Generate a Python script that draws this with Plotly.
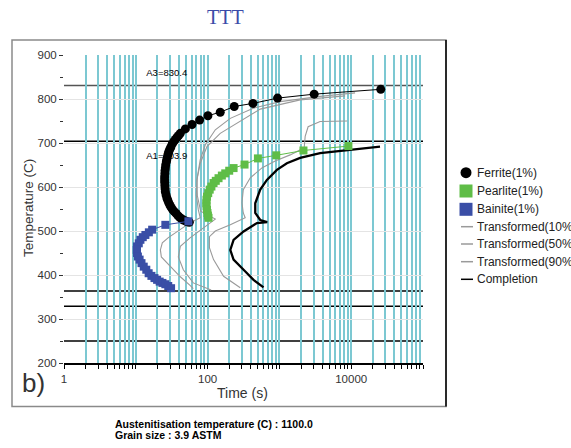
import plotly.graph_objects as go

# ---------------- data (time in s, temperature in C) ----------------
ferrite_t = [25800, 3050, 942, 428, 235, 150, 101, 77.4, 60.7, 49.0, 41.7, 39.5, 37.5, 35.5, 33.7,
             32.2, 30.8, 29.8, 28.8, 28.1, 27.5, 27.0, 26.6, 26.1, 25.8, 25.5, 25.4, 25.2, 25.2,
             25.3, 25.4, 25.6, 25.8, 26.4, 27.1, 27.9, 28.8, 30.0, 31.3, 32.8, 34.4, 36.4, 38.5,
             40.8, 43.1, 46.0, 49.0, 52.0, 55.6]
ferrite_T = [822, 811, 802, 790, 783, 770, 762, 752, 742, 732, 722, 717, 713, 708, 703,
             698, 691, 686, 680, 674, 668, 662, 657, 650, 643, 637, 630, 623, 616,
             610, 603, 596, 589, 582, 575, 570, 564, 558, 553, 548, 544, 540, 535,
             531, 528, 525, 523, 521, 520]

pearlite_t = [9140, 2163, 904, 502, 327, 230, 200, 176, 158, 142, 130, 121, 113, 107, 102,
              98, 96.5, 96, 96.5, 98, 99.5, 101, 103]
pearlite_T = [693, 683, 672, 665, 651, 643, 637, 631, 626, 620, 614, 609, 601, 594, 586,
              578, 571, 563, 556, 548, 541, 535, 530]

bainite_t = [54, 25.8, 16.9, 15.2, 13.6, 12.5, 11.6, 11.0, 10.4, 10.3, 10.4, 10.7, 11.3, 12.0,
             12.9, 14.0, 15.1, 16.5, 18.2, 19.8, 21.5, 23.5, 25.8, 28.3, 31.0]
bainite_T = [522, 514, 503, 497, 491, 486, 480, 472, 465, 457, 450, 442, 435, 427,
             419, 412, 404, 398, 393, 389, 385, 382, 379, 375, 370]

t10_t = [11330, 3690, 1025, 432, 207, 128, 93, 79, 72, 69.6, 74.3, 79, 57.5, 41.7, 28.4,
         23.4, 22, 22.7, 30.3, 41.7, 57.5, 63.2]
t10_T = [814, 806, 794, 779, 756, 730, 696, 662, 623, 582, 548, 530, 519, 503, 485,
         473, 457, 441, 419, 396, 376, 369]

t50_t = [8230, 1945, 541, 285, 150, 98, 79, 71, 72, 80, 128, 57.5, 41.7, 39.1, 45.9, 63.2, 112]
t50_T = [807, 798, 777, 749, 722, 692, 654, 616, 580, 545, 527, 485, 465, 441, 412, 382, 366]

t90_t = [8770, 3690, 2512, 2285, 2213, 1413, 874, 577, 393, 314, 301, 314, 334, 207, 128,
         106, 106, 121, 167, 285]
t90_T = [750, 749, 737, 715, 689, 673, 659, 644, 621, 594, 564, 541, 530, 514, 500,
         487, 462, 435, 397, 371]

comp_t = [25200, 8690, 3690, 1945, 1271, 923, 670, 541, 461, 461, 541, 676, 487, 317, 230,
          207, 230, 317, 436, 601]
comp_T = [692, 684, 677, 666, 654, 639, 616, 594, 563, 541, 525, 520, 518, 499, 480,
          457, 435, 412, 389, 372]

ref_names = ["A3=830.4", "A1=703.9"]
ref_label_t = [14.0, 14.0]
ref_label_T = [858, 668]
ref_temps = [830.4, 703.9, 363.5, 329.0, 250.0]
ref_colors = ["#555555", "#000000", "#000000", "#000000", "#000000"]

x_tick_vals = [d * 10 ** k for k in range(5) for d in range(1, 10)] + [100000]
x_tick_labels = {1: "1", 100: "100", 10000: "10000"}

legend_names = ["Ferrite(1%)", "Pearlite(1%)", "Bainite(1%)", "Transformed(10%)",
                "Transformed(50%)", "Transformed(90%)", "Completion"]

FERRITE = "#000000"
PEARLITE = "#5fbd47"
BAINITE = "#3a4ea6"
GRAY = "#9a9a9a"

# ---------------- layout geometry helpers (pixels -> paper) ----------------
L, R, T, B = 64, 148, 55, 85
W, H = 571, 448
PW, PH = W - L - R, H - T - B


def px(x):
    return (x - L) / PW


def py(y):
    return (H - B - y) / PH


fig = go.Figure()

# reference labels (under the curves)
fig.add_trace(go.Scatter(x=ref_label_t, y=ref_label_T, mode="text", text=ref_names,
                         textposition="middle right",
                         textfont=dict(family="Liberation Sans", size=9.5, color="#000"),
                         showlegend=False, hoverinfo="skip"))

for tt, TT in [(t10_t, t10_T), (t50_t, t50_T), (t90_t, t90_T)]:
    fig.add_trace(go.Scatter(x=tt, y=TT, mode="lines", line=dict(color=GRAY, width=1.1),
                             showlegend=False))

fig.add_trace(go.Scatter(x=comp_t, y=comp_T, mode="lines", line=dict(color="#000", width=2.3),
                         showlegend=False))

fig.add_trace(go.Scatter(x=ferrite_t, y=ferrite_T, mode="lines+markers",
                         line=dict(color=FERRITE, width=1),
                         marker=dict(symbol="circle", size=9, color=FERRITE),
                         showlegend=False))
fig.add_trace(go.Scatter(x=pearlite_t, y=pearlite_T, mode="lines+markers",
                         line=dict(color=PEARLITE, width=1),
                         marker=dict(symbol="square", size=8, color=PEARLITE),
                         showlegend=False))
fig.add_trace(go.Scatter(x=bainite_t, y=bainite_T, mode="lines+markers",
                         line=dict(color=BAINITE, width=1),
                         marker=dict(symbol="square", size=8, color=BAINITE),
                         showlegend=False))

shapes = []
for v, c in zip(ref_temps, ref_colors):
    shapes.append(dict(type="line", xref="paper", yref="y", x0=0, x1=1, y0=v, y1=v,
                       line=dict(color=c, width=1.5), layer="between"))

# outer frame
shapes.append(dict(type="rect", xref="paper", yref="paper", x0=px(12), x1=px(446),
                   y0=py(406.5), y1=py(40), line=dict(color="#8a8a8a", width=1.5),
                   layer="below"))
shapes.append(dict(type="line", xref="paper", yref="paper", x0=px(446), x1=px(446),
                   y0=py(406.5), y1=py(40), line=dict(color="#000", width=1.5)))

# legend symbols + text
leg_y = [172.7, 191, 209.3, 226.7, 244, 261.7, 279.3]
annotations = []
for i, (name, yy) in enumerate(zip(legend_names, leg_y)):
    if i == 0:
        shapes.append(dict(type="circle", xref="paper", yref="paper", x0=px(460.5), x1=px(471.5),
                           y0=py(yy + 5.5), y1=py(yy - 5.5), fillcolor=FERRITE,
                           line=dict(color=FERRITE, width=0)))
    elif i in (1, 2):
        col = PEARLITE if i == 1 else BAINITE
        shapes.append(dict(type="rect", xref="paper", yref="paper", x0=px(459.5), x1=px(472.5),
                           y0=py(yy + 6.5), y1=py(yy - 6.5), fillcolor=col,
                           line=dict(color=col, width=0)))
    else:
        col = "#000" if i == 6 else GRAY
        shapes.append(dict(type="line", xref="paper", yref="paper", x0=px(461), x1=px(473),
                           y0=py(yy), y1=py(yy), line=dict(color=col, width=1.5)))
    annotations.append(dict(text=name, xref="paper", yref="paper", x=px(474.5), y=py(yy),
                            xanchor="left", yanchor="middle", showarrow=False,
                            font=dict(family="Liberation Sans", size=12, color="#222")))

annotations += [
    dict(text="TTT", xref="paper", yref="paper", x=px(225), y=py(17), xanchor="center",
         yanchor="middle", showarrow=False,
         font=dict(family="Liberation Serif", size=20, color="#3b4ba8")),
    dict(text="Temperature (C)", xref="paper", yref="paper", x=px(28), y=py(208),
         xanchor="center", yanchor="middle", textangle=-90, showarrow=False,
         font=dict(family="Liberation Sans", size=13.5, color="#333")),
    dict(text="Time (s)", xref="paper", yref="paper", x=px(242.5), y=py(392.5),
         xanchor="center", yanchor="middle", showarrow=False,
         font=dict(family="Liberation Sans", size=14, color="#333")),
    dict(text="b)", xref="paper", yref="paper", x=px(20), y=py(383),
         xanchor="left", yanchor="middle", showarrow=False,
         font=dict(family="Liberation Sans", size=26, color="#333")),
    dict(text="<b>Austenitisation temperature (C) : 1100.0</b>", xref="paper", yref="paper",
         x=px(113), y=py(423.5), xanchor="left", yanchor="middle", showarrow=False,
         font=dict(family="Liberation Sans", size=10.5, color="#000")),
    dict(text="<b>Grain size : 3.9 ASTM</b>", xref="paper", yref="paper",
         x=px(113), y=py(435), xanchor="left", yanchor="middle", showarrow=False,
         font=dict(family="Liberation Sans", size=10.5, color="#000")),
]

fig.update_layout(
    width=W, height=H, margin=dict(l=L, r=R, t=T, b=B, pad=0),
    paper_bgcolor="white", plot_bgcolor="white",
    showlegend=False, shapes=shapes, annotations=annotations,
    xaxis=dict(type="log", range=[0, 5], tickmode="array", tickvals=x_tick_vals,
               ticktext=[x_tick_labels.get(v, "") for v in x_tick_vals],
               showgrid=True, gridcolor="#7cc8d2", gridwidth=1.5,
               ticks="outside", ticklen=4, tickcolor="#000", tickwidth=1,
               showline=True, linecolor="#000", linewidth=1.5, zeroline=False,
               tickfont=dict(family="Liberation Sans", size=11.5, color="#333")),
    yaxis=dict(range=[200, 900], dtick=100, tick0=200, showgrid=True, gridcolor="#e4e4e4",
               gridwidth=1, ticks="outside", ticklen=4, tickcolor="#333", zeroline=False,
               showline=False,
               minor=dict(dtick=50, ticks="outside", ticklen=3, tickcolor="#333", showgrid=False),
               tickfont=dict(family="Liberation Sans", size=11.5, color="#333")),
)

fig.write_html("out.html", config={"displayModeBar": False},
               post_script="document.body.style.margin='0px';")
